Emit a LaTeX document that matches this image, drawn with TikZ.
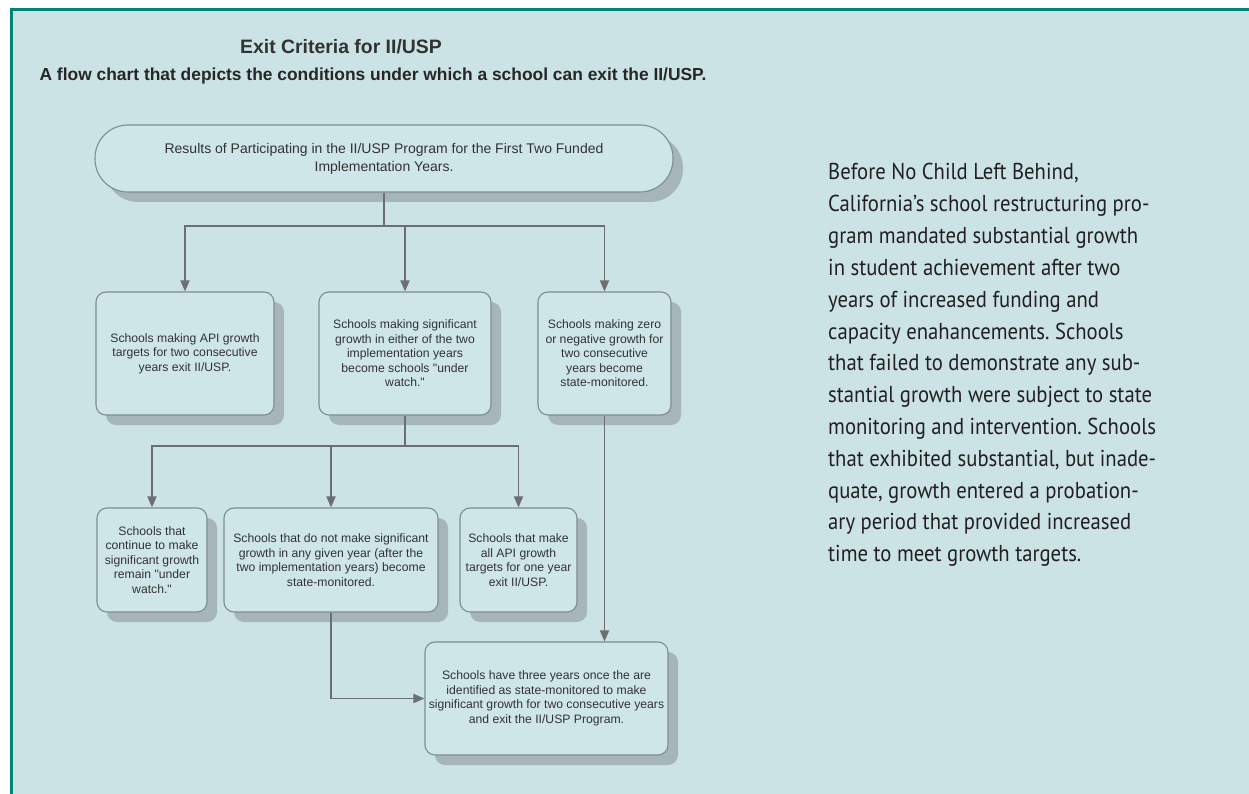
\documentclass[tikz,border=0pt]{standalone}
\usepackage{fontspec}
\usetikzlibrary{shadows, arrows.meta}
\newfontfamily\chartfont{Liberation Sans}
\newfontfamily\sidefont[FakeStretch=0.9]{PT Sans}
\definecolor{bgcol}{RGB}{203,227,229}
\definecolor{framecol}{RGB}{0,133,120}
\definecolor{boxfill}{RGB}{207,230,232}
\definecolor{boxline}{RGB}{128,140,142}
\definecolor{shadowcol}{RGB}{166,182,184}
\definecolor{linecol}{RGB}{108,110,112}
\definecolor{fctext}{RGB}{50,50,50}
\definecolor{sidetext}{RGB}{35,31,32}
\frenchspacing

\begin{document}
\begin{tikzpicture}[x=1pt, y=-1pt]
  \newcommand\shadowoff{10pt}
  \newcommand\boxround{10pt}
  \newcommand\sideskip{31.8}
  \newcommand\sidetop{180}

  \tikzset{fcbox/.style={draw=boxline, fill=boxfill, line width=1.1pt, rounded corners=\boxround,
    align=center, text=fctext, inner sep=0pt, font=\chartfont\fontsize{12.2}{14.5}\selectfont,
    drop shadow={shadow xshift=\shadowoff, shadow yshift=-\shadowoff, fill=shadowcol, opacity=1}}}
  \tikzset{pillbox/.style={fcbox, rounded corners=33pt, font=\chartfont\fontsize{14}{18}\selectfont}}
  \tikzset{line/.style={draw=linecol, line width=1.8pt}}
  \tikzset{ptr/.style={line, -{Stealth[length=11pt, width=9pt, inset=0pt]}}}
  \tikzset{sideline/.style={anchor=base west, inner sep=0pt, text=sidetext,
    font=\sidefont\fontsize{23}{26}\selectfont}}

  % page and frame
  \useasboundingbox (0,0) rectangle (1249,794);
  \fill[white] (0,0) rectangle (1249,794);
  \fill[bgcol] (11,9) rectangle (1249,794);
  \draw[framecol, line width=3pt] (11.5,794) -- (11.5,9.5) -- (1249,9.5);

  % headings
  \node[text=fctext, font=\chartfont\bfseries\fontsize{19.4}{23}\selectfont] (title) at (341,47) {Exit Criteria for II/USP};
  \node[text=black!85, font=\chartfont\bfseries\fontsize{17.4}{21}\selectfont] (subtitle) at (373,76)
    {A flow chart that depicts the conditions under which a school can exit the II/USP.};

  % flow chart
  \node[pillbox, minimum width=578, minimum height=67] (pill) at (384,158.5)
    {Results of Participating in the II/USP Program for the First Two Funded\\Implementation Years.};

  \node[fcbox, minimum width=178, minimum height=123] (up1) at (185,353.5)
    {Schools making API growth\\targets for two consecutive\\years exit II/USP.};
  \node[fcbox, minimum width=172, minimum height=123] (up2) at (405,353.5)
    {Schools making significant\\growth in either of the two\\implementation years\\become schools "under\\watch."};
  \node[fcbox, minimum width=133, minimum height=123] (up3) at (604.5,353.5)
    {Schools making zero\\or negative growth for\\two consecutive\\years become\\state-monitored.};

  \node[fcbox, minimum width=110, minimum height=104] (low1) at (152,560)
    {Schools that\\continue to make\\significant growth\\remain "under\\watch."};
  \node[fcbox, minimum width=214, minimum height=104] (low2) at (331,560)
    {Schools that do not make significant\\growth in any given year (after the\\two implementation years) become\\state-monitored.};
  \node[fcbox, minimum width=117, minimum height=104] (low3) at (518.5,560)
    {Schools that make\\all API growth\\targets for one year\\exit II/USP.};

  \node[fcbox, minimum width=243, minimum height=113] (bot) at (546.5,698.5)
    {Schools have three years once the are\\identified as state-monitored to make\\significant growth for two consecutive years\\and exit the II/USP Program.};

  % connectors
  \coordinate (split1) at (384,226);
  \coordinate (split2) at (405,446);
  \draw[line] (pill.south) -- (split1);
  \foreach \b in {up1, up2, up3}{
    \draw[ptr] (split1) -| (\b.north);
  }
  \draw[line] (up2.south) -- (split2);
  \foreach \b in {low1, low2, low3}{
    \draw[ptr] (split2) -| (\b.north);
  }
  \draw[ptr] (up3.south) -- (up3.south |- bot.north);
  \draw[ptr] (low2.south) |- (bot.west);

  % side text
  \foreach \ln [count=\i from 0] in {{Before No Child Left Behind,}, {California’s school restructuring pro-},
      {gram mandated substantial growth}, {in student achievement after two}, {years of increased funding and},
      {capacity enahancements. Schools}, {that failed to demonstrate any sub-}, {stantial growth were subject to state},
      {monitoring and intervention. Schools}, {that exhibited substantial, but inade-}, {quate, growth entered a probation-},
      {ary period that provided increased}, {time to meet growth targets.}}{
    \node[sideline] (side\i) at (828, \sidetop+\sideskip*\i) {\ln};
  }
\end{tikzpicture}
\end{document}
